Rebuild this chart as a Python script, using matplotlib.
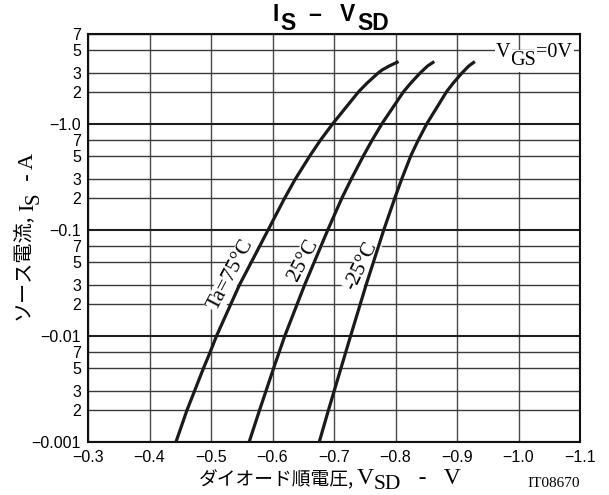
import matplotlib
matplotlib.use("Agg")
import matplotlib.pyplot as plt
from matplotlib.ticker import FixedLocator, FixedFormatter, NullFormatter

# ---------------- data ----------------
# forward voltage magnitude |V_SD| (V) and source current magnitude |I_S| (A)
ta75_v = [0.443, 0.461, 0.473, 0.488, 0.4985, 0.509, 0.546, 0.593, 0.620, 0.637, 0.661, 0.678, 0.698, 0.740, 0.754, 0.7717, 0.778, 0.7895, 0.805]
ta75_i = [0.001, 0.002, 0.003, 0.005, 0.007, 0.01, 0.03, 0.1, 0.2, 0.3, 0.5, 0.7, 1.0, 2.0, 2.42, 3.0, 3.2, 3.49, 3.85]

ta25_v = [0.562, 0.579, 0.602, 0.620, 0.652, 0.690, 0.713, 0.728, 0.748, 0.762, 0.778, 0.813, 0.825, 0.840, 0.852, 0.863]
ta25_i = [0.001, 0.002, 0.005, 0.01, 0.03, 0.1, 0.2, 0.3, 0.5, 0.7, 1.0, 2.0, 2.42, 3.0, 3.49, 3.85]

tam25_v = [0.676, 0.691, 0.7115, 0.727, 0.752, 0.781, 0.799, 0.810, 0.825, 0.837, 0.851, 0.883, 0.894, 0.908, 0.919, 0.929]
tam25_i = [0.001, 0.002, 0.005, 0.01, 0.03, 0.1, 0.2, 0.3, 0.5, 0.7, 1.0, 2.0, 2.42, 3.0, 3.49, 3.85]

x_ticks = [0.3, 0.4, 0.5, 0.6, 0.7, 0.8, 0.9, 1.0, 1.1]
x_labels = ["\u22120.3", "\u22120.4", "\u22120.5", "\u22120.6", "\u22120.7", "\u22120.8", "\u22120.9", "\u22121.0", "\u22121.1"]
y_major = [0.001, 0.01, 0.1, 1.0]
y_major_labels = ["\u22120.001", "\u22120.01", "\u22120.1", "\u22121.0"]
y_minor = [0.002, 0.003, 0.005, 0.007, 0.02, 0.03, 0.05, 0.07, 0.2, 0.3, 0.5, 0.7, 2, 3, 5, 7]
y_minor_labels = ["2", "3", "5", "7"] * 4

curve_labels = ["Ta=75\u00b0C", "25\u00b0C", "-25\u00b0C"]

# ---------------- figure ----------------
W, H = 609, 495
fig = plt.figure(figsize=(W / 100, H / 100), dpi=100)
ax = fig.add_axes([88 / W, 1 - 442 / H, (580 - 88) / W, (442 - 34) / H])

SANS = "Liberation Sans"
SERIF = ["Liberation Serif", "Noto Sans CJK JP"]
JP = ["Noto Sans CJK JP", "Liberation Serif"]

ax.set_yscale("log")
ax.set_xlim(0.3, 1.1)
ax.set_ylim(0.001, 7)

ax.xaxis.set_major_locator(FixedLocator(x_ticks))
ax.xaxis.set_major_formatter(FixedFormatter(x_labels))
ax.xaxis.set_minor_formatter(NullFormatter())
ax.yaxis.set_major_locator(FixedLocator(y_major))
ax.yaxis.set_major_formatter(FixedFormatter(y_major_labels))
ax.yaxis.set_minor_locator(FixedLocator(y_minor))
ax.yaxis.set_minor_formatter(FixedFormatter(y_minor_labels))

ax.tick_params(axis="both", which="both", length=0)
ax.tick_params(axis="y", which="both", pad=5)
ax.tick_params(axis="x", which="both", pad=6)
for lab in ax.get_xticklabels() + ax.get_yticklabels() + ax.get_yticklabels(minor=True):
    lab.set_fontfamily(SANS)
    lab.set_fontsize(11.5)

ax.grid(True, which="major", axis="y", color="#1e1e1e", lw=1.5)
ax.grid(True, which="minor", axis="y", color="#3a3a3a", lw=1.0)
ax.grid(True, which="major", axis="x", color="#4a4a4a", lw=1.0)
ax.set_axisbelow(True)
for s in ax.spines.values():
    s.set_linewidth(1.5)
    s.set_color("#111111")

for v, i in [(ta75_v, ta75_i), (ta25_v, ta25_i), (tam25_v, tam25_i)]:
    ax.plot(v, i, color="#1a1a1a", lw=2.3, solid_capstyle="butt", solid_joinstyle="round", zorder=3)

# curve labels
lab_pos = [(0.5325, 0.0374, 62), (0.651, 0.0518, 62), (0.7455, 0.0455, 64)]
for (x, y, r), t in zip(lab_pos, curve_labels):
    ax.text(x, y, t, rotation=r, rotation_mode="anchor", ha="center", va="center",
            fontfamily=SERIF, fontsize=15.5, zorder=2,
            bbox=dict(facecolor="white", edgecolor="none", pad=0.5))


def fpx(x, y):
    return (x / W, 1 - y / H)


# V_GS = 0V label
bb = dict(facecolor="white", edgecolor="none", pad=1.0)
t = fig.text(*fpx(496, 57), "V", fontfamily=SERIF, fontsize=14.5, va="baseline", ha="left", zorder=5, bbox=bb)
t2 = ax.annotate("GS", xy=(1, 0), xycoords=t, xytext=(0, -6), textcoords="offset points",
                 fontfamily=SERIF, fontsize=14.5, va="bottom", ha="left", annotation_clip=False, bbox=bb, zorder=5)
ax.annotate("=0V", xy=(1, 0), xycoords=t2, xytext=(0, 6), textcoords="offset points",
            fontfamily=SERIF, fontsize=14.5, va="bottom", ha="left", annotation_clip=False, bbox=bb, zorder=5)

# title I_S - V_SD
TF = dict(fontfamily=SANS, fontsize=16.5, fontweight="bold")
t = fig.text(*fpx(273, 21), "I", va="baseline", ha="left", **TF)
t2 = ax.annotate("S", xy=(1, 0), xycoords=t, xytext=(0.5, -6.5), textcoords="offset points",
                 va="bottom", ha="left", annotation_clip=False, **TF)
t3 = ax.annotate("\u2013", xy=(1, 0), xycoords=t2, xytext=(9, 6.5), textcoords="offset points",
                 va="bottom", ha="left", annotation_clip=False, **TF)
t4 = ax.annotate("V", xy=(1, 0), xycoords=t3, xytext=(14, 0), textcoords="offset points",
                 va="bottom", ha="left", annotation_clip=False, **TF)
ax.annotate("SD", xy=(1, 0), xycoords=t4, xytext=(1.5, -6.5), textcoords="offset points",
            va="bottom", ha="left", annotation_clip=False, **TF)

# x label
fig.text(*fpx(354, 485), "\u30c0\u30a4\u30aa\u30fc\u30c9\u9806\u96fb\u5727,", fontfamily=JP, fontsize=13.5,
         va="baseline", ha="right")
t = fig.text(*fpx(357, 484), "V", fontfamily=SERIF, fontsize=17, va="baseline", ha="left")
t2 = ax.annotate("SD", xy=(1, 0), xycoords=t, xytext=(0, -3.5), textcoords="offset points",
                 fontfamily=SERIF, fontsize=15.5, va="bottom", ha="left", annotation_clip=False)
ax.annotate("   -   V", xy=(1, 0), xycoords=t2, xytext=(0, 3.5), textcoords="offset points",
            fontfamily=SERIF, fontsize=17, va="bottom", ha="left", annotation_clip=False)
fig.text(*fpx(527, 487), "IT08670", fontfamily=SERIF, fontsize=11, va="baseline", ha="left")

# y label (rotated)
fig.text(*fpx(34, 214), "\u30bd\u30fc\u30b9\u96fb\u6d41,", fontfamily=JP, fontsize=14.5, rotation=90,
         va="top", ha="right")
t = fig.text(*fpx(38, 211), "I", fontfamily=SERIF, fontsize=16, rotation=90, va="bottom", ha="right")
t2 = ax.annotate("S", xy=(1, 1), xycoords=t, xytext=(4, 0), textcoords="offset points",
                 fontfamily=SERIF, fontsize=15, rotation=90, va="bottom", ha="right", annotation_clip=False)
ax.annotate("  - A", xy=(1, 1), xycoords=t2, xytext=(-4, 0), textcoords="offset points",
            fontfamily=SERIF, fontsize=16, rotation=90, va="bottom", ha="right", annotation_clip=False)

fig.savefig("out.png", dpi=100)
